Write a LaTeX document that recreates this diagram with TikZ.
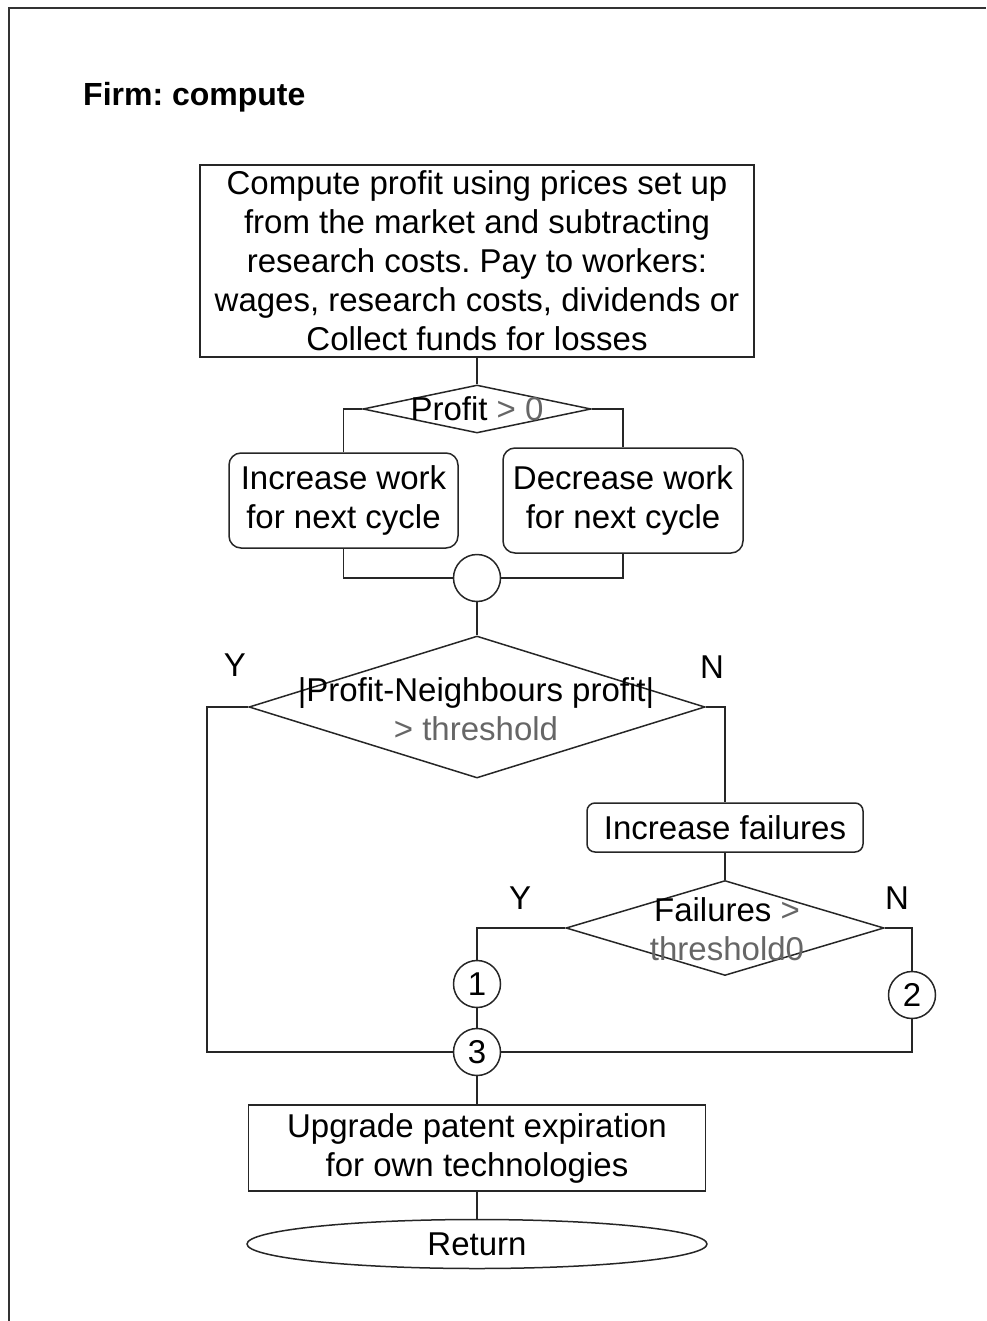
\documentclass[tikz,border=0pt]{standalone}
\usepackage{fontspec}
\setmainfont{Liberation Sans}
\usepackage{tikz}
\usetikzlibrary{shapes.geometric}
\frenchspacing

\begin{document}
\begin{tikzpicture}[x=1pt,y=-1pt,
    every node/.style={font=\fontsize{33}{39}\selectfont, inner sep=0pt},
    flow/.style={draw=black!85, line width=1.5pt},
    procbox/.style={draw=black!85, line width=1.5pt, rectangle, align=center},
    roundbox/.style={procbox, rounded corners=12pt},
    decision/.style={draw=black!85, line width=1.5pt, diamond},
    joint/.style={draw=black!85, line width=1.5pt, circle, minimum size=47pt},
    dim/.style={text=black!60}]
            \useasboundingbox (0,0) rectangle (986,1321);

            % Outer frame and title
            \draw[line width=2pt, black!80] (9,1321) -- (9,8) -- (986,8);
            \node[anchor=west, font=\fontsize{32}{38}\selectfont\bfseries] (title) at (83,97) {Firm: compute};

            % Compute profit
            \node[procbox, minimum width=554pt, minimum height=192pt] (profit) at (477,261)
                {Compute profit using prices set up\\from the market and subtracting\\research costs. Pay to workers:\\wages, research costs, dividends or\\Collect funds for losses};

            % Profit > 0
            \node[decision, minimum width=228pt, minimum height=48pt] (chk) at (477,409) {};
            \node (chktxt) at (477,409) {Profit {\color{black!60}> 0}};
            \node[roundbox, minimum width=229pt, minimum height=95pt] (incwork) at (343.5,500.5) {Increase work\\for next cycle};
            \node[roundbox, minimum width=240pt, minimum height=105pt] (decwork) at (623,500.5) {Decrease work\\for next cycle};
            \node[joint] (merge) at (477,578) {};

            % Compare with the neighbours
            \node[decision, minimum width=456pt, minimum height=142pt] (near) at (477,707) {};
            \node[align=center] (neartxt) at (476,709) {|Profit-Neighbours profit|\\{\color{black!60}> threshold}};
            \node (ny) at (235,665) {Y};
            \node (nn) at (712,667) {N};
            \node[roundbox, rounded corners=8pt, minimum width=276pt, minimum height=49pt] (incfail) at (725,827.5) {Increase failures};

            % Failures > threshold0
            \node[decision, minimum width=318pt, minimum height=95pt] (fails) at (725,928) {};
            \node[align=center] (failstxt) at (727,929) {Failures {\color{black!60}>}\\{\color{black!60}threshold0}};
            \node (fy) at (520,898) {Y};
            \node (fn) at (897,898) {N};
            \node[joint] (c1) at (477,984) {1};
            \node[joint] (c2) at (912,995) {2};
            \node[joint] (c3) at (477,1052) {3};
            \coordinate (back) at (207,1052);

            % Upgrade and return
            \node[procbox, minimum width=457pt, minimum height=86pt] (patent) at (477,1148) {Upgrade patent expiration\\for own technologies};
            \node[draw=black!85, line width=1.5pt, ellipse, minimum width=460pt, minimum height=49pt] (ret) at (477,1244) {Return};

            % Connectors
            \draw[flow] (profit.south) -- (chk.north);
            \draw[flow] (chk.west) -| (incwork.north);
            \draw[flow] (chk.east) -| (decwork.north);
            \draw[flow] (incwork.south) |- (merge.west);
            \draw[flow] (decwork.south) |- (merge.east);
            \draw[flow] (merge.south) -- (near.north);
            \draw[flow] (near.west) -| (back) -- (c3.west);
            \draw[flow] (near.east) -| (incfail.north);
            \draw[flow] (incfail.south) -- (fails.north);
            \draw[flow] (fails.west) -| (c1.north);
            \draw[flow] (c1.south) -- (c3.north);
            \draw[flow] (fails.east) -| (c2.north);
            \draw[flow] (c2.south) |- (c3.east);
            \draw[flow] (c3.south) -- (patent.north);
            \draw[flow] (patent.south) -- (ret.north);
        \end{tikzpicture}
\end{document}
